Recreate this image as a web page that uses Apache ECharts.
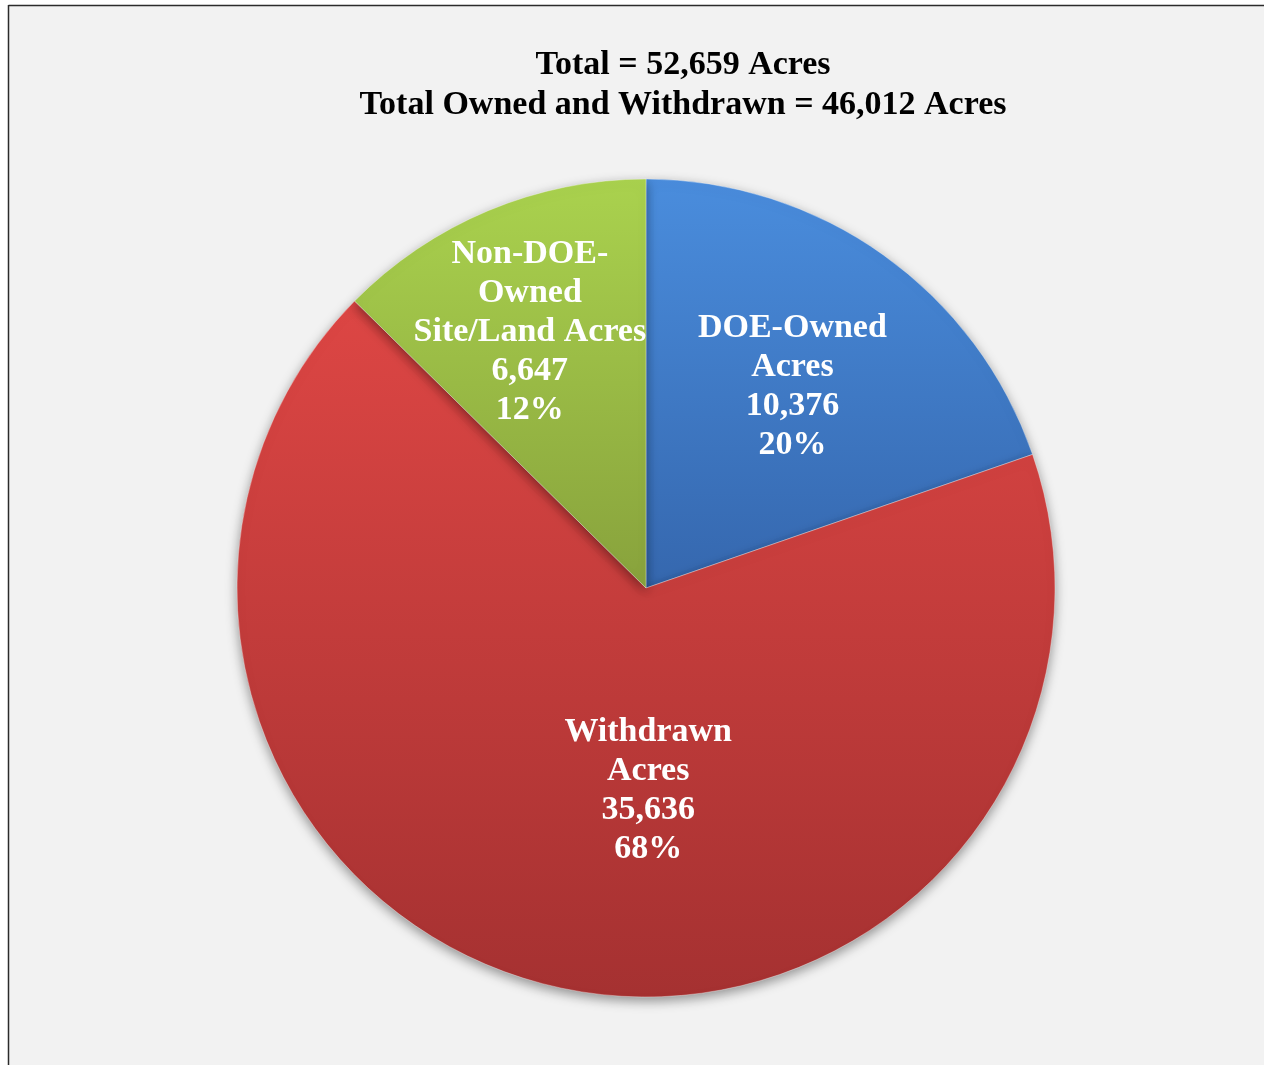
<!DOCTYPE html>
<html>
<head>
<meta charset="utf-8">
<script src="https://cdn.jsdelivr.net/npm/echarts@6/dist/echarts.min.js"></script>
<style>
  html, body { margin: 0; padding: 0; background: #ffffff; }
  #chart { width: 1264px; height: 1065px; }
</style>
</head>
<body>
<div id="chart"></div>
<script>
// ---- data ----
const categories = ['DOE-Owned\nAcres', 'Withdrawn\nAcres', 'Non-DOE-\nOwned\nSite/Land Acres'];
const acres = [10376, 35636, 6647];
const titleLines = ['Total = 52,659 Acres', 'Total Owned and Withdrawn = 46,012 Acres'];

// ---- styles (kept separate from data) ----
const sliceGradients = [
  ['#4a8ddd', '#3567ae'],
  ['#dd4644', '#a53131'],
  ['#aad24e', '#88a23c']
];
const labelOffsets = [[26, -32], [48, 0], [-36, -64]];

const chart = echarts.init(document.getElementById('chart'));

const seriesData = categories.map((name, i) => ({
  name: name,
  value: acres[i],
  itemStyle: {
    color: {
      type: 'linear', x: 0, y: 0, x2: 0, y2: 1,
      colorStops: [
        { offset: 0, color: sliceGradients[i][0] },
        { offset: 1, color: sliceGradients[i][1] }
      ]
    }
  },
  label: { offset: labelOffsets[i] }
}));

chart.setOption({
  backgroundColor: '#ffffff',
  animation: false,
  graphic: [
    {
      type: 'rect', z: -10,
      shape: { x: 8, y: 5, width: 1300, height: 1100 },
      style: { fill: '#f2f2f2', stroke: null }
    },
    {
      type: 'line', z: -9,
      shape: { x1: 8.5, y1: 5.5, x2: 1300, y2: 5.5 },
      style: { stroke: '#2b2b2b', lineWidth: 1.5 }
    },
    {
      type: 'line', z: -9,
      shape: { x1: 8.5, y1: 5, x2: 8.5, y2: 1100 },
      style: { stroke: '#2b2b2b', lineWidth: 1.5 }
    }
  ],
  title: {
    text: titleLines.join('\n'),
    left: 683,
    top: 45,
    textAlign: 'center',
    padding: 0,
    textStyle: {
      fontFamily: 'Liberation Serif',
      fontWeight: 'bold',
      fontSize: 34,
      lineHeight: 40,
      color: '#000000'
    }
  },
  series: [{
    type: 'pie',
    center: [646, 588],
    radius: [0, 409],
    startAngle: 90,
    clockwise: true,
    percentPrecision: 0,
    avoidLabelOverlap: false,
    itemStyle: {
      borderColor: 'rgba(255,255,255,0.35)',
      borderWidth: 1,
      shadowBlur: 12,
      shadowOffsetY: 4,
      shadowColor: 'rgba(0,0,0,0.4)'
    },
    label: {
      show: true,
      position: 'inside',
      fontFamily: 'Liberation Serif',
      fontWeight: 'bold',
      fontSize: 34,
      lineHeight: 39,
      color: '#ffffff',
      align: 'center',
      verticalAlign: 'middle',
      formatter: p => p.name + '\n' + p.value.toLocaleString('en-US') + '\n' + p.percent + '%'
    },
    labelLine: { show: false },
    emphasis: { disabled: true },
    data: seriesData
  }]
});
</script>
</body>
</html>
